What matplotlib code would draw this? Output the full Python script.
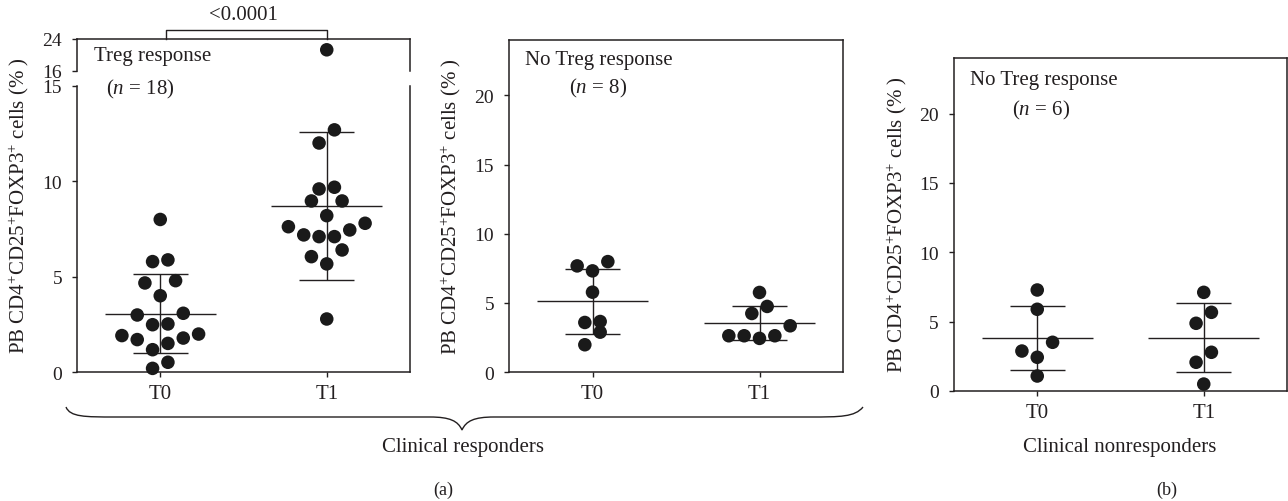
import matplotlib
matplotlib.use("Agg")
import matplotlib.pyplot as plt
import numpy as np
from matplotlib.path import Path
from matplotlib.patches import PathPatch

# ---------------- data ----------------
groups = ["T0", "T1"]
treg_resp_t0 = [8.0, 5.79, 5.88, 4.67, 4.79, 4.0, 2.99, 3.08, 2.52, 2.48,
                1.99, 1.78, 1.91, 1.70, 1.50, 1.17, 0.51, 0.19]
treg_resp_t1 = [21.3, 12.7, 12.01, 9.6, 9.69, 8.97, 8.97, 8.2, 7.62, 7.8,
                7.19, 7.1, 7.1, 7.45, 6.05, 6.4, 5.67, 2.78]
notreg_resp_t0 = [7.67, 7.98, 7.31, 5.77, 3.65, 3.58, 2.88, 1.97]
notreg_resp_t1 = [5.75, 4.74, 4.23, 3.34, 2.62, 2.43, 2.62, 2.62]
nonresp_t0 = [7.28, 5.89, 2.88, 3.51, 2.43, 1.08]
nonresp_t1 = [7.11, 5.67, 4.88, 2.79, 2.07, 0.5]

p_value = "<0.0001"
ylabel = r"PB CD4$^{+}$CD25$^{+}$FOXP3$^{+}$ cells (% )"

# ---------------- style ----------------
plt.rcParams["font.family"] = ["Liberation Serif", "DejaVu Serif"]
plt.rcParams["mathtext.fontset"] = "custom"
plt.rcParams["mathtext.rm"] = "Liberation Serif"
plt.rcParams["mathtext.it"] = "Liberation Serif:italic"
INK = "#231f20"
DOT = "#1a1a1a"
FS = 15
TICK_FS = 14

W, H = 1288, 502
fig = plt.figure(figsize=(W / 100, H / 100), dpi=100)


def fx(px):
    return px / W


def fy(py):
    return 1 - py / H


def axes_px(l, t, r, b):
    return fig.add_axes([fx(l), fy(b), (r - l) / W, (b - t) / H])


def style(ax, xt=True):
    for s in ax.spines.values():
        s.set_linewidth(1.1)
        s.set_color(INK)
    ax.tick_params(direction="out", length=3.8, width=1.0, colors=INK,
                   labelsize=TICK_FS, pad=7)
    ax.tick_params(axis="x", pad=5)
    ax.set_xlim(-0.5, 1.5)
    if xt:
        ax.set_xticks([0, 1])
        ax.set_xticklabels(groups, fontsize=FS)
    else:
        ax.set_xticks([])


def swarm(ax_for, vals, gi, D=17.0, step_px=7.67):
    """Row-based swarm (GraphPad-like): returns x positions in data units."""
    vals = np.asarray(vals, float)
    ypix = np.array([ax_for(v).transData.transform((0, v))[1] for v in vals])
    a = ax_for(vals[0])
    unit = a.transData.transform((1, 0))[0] - a.transData.transform((0, 0))[0]
    step = step_px / unit
    order = np.argsort(ypix, kind="stable")
    rows, cur, start = [], [order[0]], ypix[order[0]]
    for i in order[1:]:
        if ypix[i] - start <= D:
            cur.append(i)
        else:
            rows.append(cur)
            cur, start = [i], ypix[i]
    rows.append(cur)
    xs = np.full(len(vals), float(gi))
    for row in rows:
        n = len(row)
        slots = [(k - (n - 1) / 2) * 2 for k in range(n)]
        slots.sort(key=lambda s: (abs(s), s))
        for idx, s in zip(row, slots):
            xs[idx] = gi + s * step
    return xs


def draw_group(ax_main, ax_for, vals, gi):
    vals = np.asarray(vals, float)
    xs = swarm(ax_for, vals, gi)
    for x, v in zip(xs, vals):
        ax_for(v).scatter([x], [v], s=95, color=DOT, edgecolors="none",
                          zorder=3, clip_on=False)
    m = vals.mean()
    sd = vals.std(ddof=1)
    ax_main.hlines(m, gi - 0.334, gi + 0.334, color=INK, lw=1.0, zorder=2)
    ax_main.hlines([m - sd, m + sd], gi - 0.166, gi + 0.166, color=INK,
                   lw=1.0, zorder=2)
    ax_main.vlines(gi, m - sd, m + sd, color=INK, lw=1.0, zorder=2)


# ---------------- panel 1 (broken axis) ----------------
ax1 = axes_px(77, 87, 410, 373)
ax1u = axes_px(77, 40, 410, 72)
style(ax1)
style(ax1u, xt=False)
ax1.set_ylim(0, 15)
ax1.set_yticks([0, 5, 10, 15])
ax1.spines["top"].set_visible(False)
ax1u.set_ylim(16, 24)
ax1u.set_yticks([16, 24])
ax1u.spines["bottom"].set_visible(False)


def pick1(v):
    return ax1u if v > 15.5 else ax1


draw_group(ax1, pick1, treg_resp_t0, 0)
draw_group(ax1, pick1, treg_resp_t1, 1)

# ---------------- panel 2 ----------------
ax2 = axes_px(509, 41, 843, 373)
style(ax2)
ax2.set_ylim(0, 24)
ax2.set_yticks([0, 5, 10, 15, 20])
draw_group(ax2, lambda v: ax2, notreg_resp_t0, 0)
draw_group(ax2, lambda v: ax2, notreg_resp_t1, 1)

# ---------------- panel 3 ----------------
ax3 = axes_px(954, 59, 1287, 392)
style(ax3)
ax3.set_ylim(0, 24)
ax3.set_yticks([0, 5, 10, 15, 20])
draw_group(ax3, lambda v: ax3, nonresp_t0, 0)
draw_group(ax3, lambda v: ax3, nonresp_t1, 1)


# ---------------- texts ----------------
def ftext(px, py, s, **kw):
    kw.setdefault("fontsize", FS)
    kw.setdefault("color", INK)
    fig.text(fx(px), fy(py), s, **kw)


ftext(19, 206, ylabel, rotation=90, ha="center", va="center")
ftext(451, 207, ylabel, rotation=90, ha="center", va="center")
ftext(897, 225, ylabel, rotation=90, ha="center", va="center")

ftext(94, 56, "Treg response", ha="left", va="center")
ftext(106, 89, r"($n$ = 18)", ha="left", va="center")
ftext(525, 61, "No Treg response", ha="left", va="center")
ftext(569, 88, r"($n$ = 8)", ha="left", va="center")
ftext(970, 80, "No Treg response", ha="left", va="center")
ftext(1012, 110, r"($n$ = 6)", ha="left", va="center")

ftext(243, 16, p_value, ha="center", va="center")
ftext(463, 448, "Clinical responders", ha="center", va="center")
ftext(1120, 448, "Clinical nonresponders", ha="center", va="center")
ftext(443, 490, "(a)", ha="center", va="center", fontsize=13)
ftext(1167, 490, "(b)", ha="center", va="center", fontsize=13)

# significance bracket
bx0 = ax1u.transData.transform((0.035, 24))[0]
bx1 = ax1u.transData.transform((1.0, 24))[0]
fig.add_artist(plt.Line2D([fx(bx0), fx(bx0), fx(bx1), fx(bx1)],
                          [fy(40), fy(30.7), fy(30.7), fy(40)],
                          transform=fig.transFigure, color=INK, lw=1.0))

# curly brace under panels (a)
pts = [(66, 408), (70, 418), (85, 418), (115, 418), (430, 418),
       (450, 418), (458, 422), (462, 431), (466, 422), (474, 418),
       (494, 418), (810, 418), (840, 418), (855, 418), (863, 408)]
codes = [Path.MOVETO, Path.CURVE4, Path.CURVE4, Path.CURVE4, Path.LINETO,
         Path.CURVE4, Path.CURVE4, Path.CURVE4, Path.CURVE4, Path.CURVE4,
         Path.CURVE4, Path.LINETO, Path.CURVE4, Path.CURVE4, Path.CURVE4]
verts = [(fx(x), fy(y)) for x, y in pts]
fig.add_artist(PathPatch(Path(verts, codes), transform=fig.transFigure,
                         facecolor="none", edgecolor=INK, lw=1.0))

fig.savefig("out.png", dpi=100)
